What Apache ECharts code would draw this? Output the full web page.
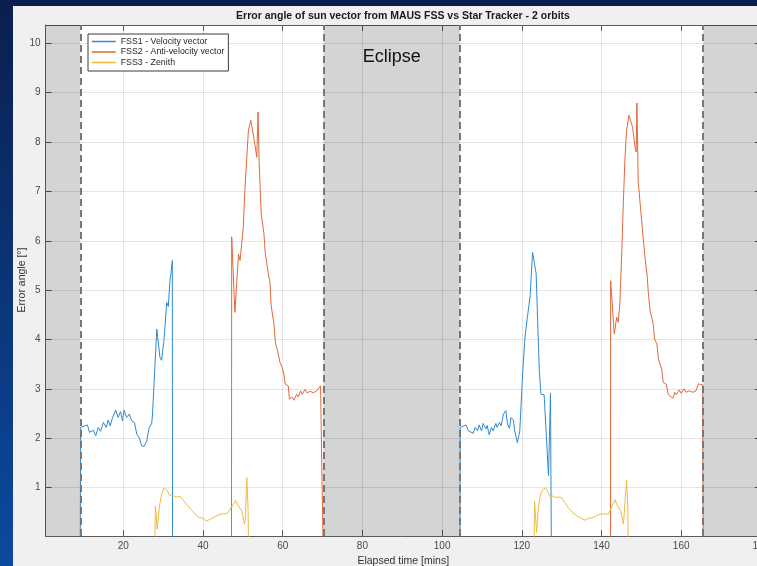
<!DOCTYPE html>
<html><head><meta charset="utf-8">
<script src="https://cdn.jsdelivr.net/npm/echarts@6/dist/echarts.min.js"></script>
<style>html,body{margin:0;padding:0;background:#0a2a60}#c{width:757px;height:566px}</style>
</head><body><div id="c"></div>
<script>
// ---- Data ----
const seriesNames = ['FSS1 - Velocity vector', 'FSS2 - Anti-velocity vector', 'FSS3 - Zenith'];

const fss1Orbit1Time = [9.2, 9.3, 11.0, 11.5, 12.5, 13.1, 13.7, 14.3, 15.0, 15.7, 16.2, 16.7, 17.3, 18.1, 18.7, 19.3, 19.8, 20.2, 20.8, 21.5, 22.1, 22.8, 23.4, 24.0, 24.6, 25.2, 25.9, 26.5, 27.1, 27.3, 27.5, 28.4, 29.2, 29.6, 30.2, 30.9, 31.3, 31.7, 31.9, 32.3, 32.35];
const fss1Orbit1Error = [0, 2.22, 2.27, 2.12, 2.16, 2.05, 2.22, 2.14, 2.32, 2.22, 2.37, 2.25, 2.42, 2.57, 2.42, 2.54, 2.35, 2.57, 2.42, 2.49, 2.35, 2.32, 2.08, 2.01, 1.85, 1.83, 1.95, 2.22, 2.29, 2.45, 2.76, 4.21, 3.64, 3.58, 3.98, 4.75, 4.67, 5.19, 5.3, 5.60, 0];
const fss1Orbit2Time = [104.5, 104.55, 106.0, 106.6, 107.1, 107.8, 108.3, 108.9, 109.3, 109.9, 110.3, 111.0, 111.3, 111.8, 112.4, 112.8, 113.5, 113.8, 114.4, 114.8, 115.4, 116.0, 116.4, 116.9, 117.3, 117.9, 118.2, 118.9, 119.5, 120.2, 120.8, 121.4, 122.1, 122.7, 123.1, 123.6, 124.0, 124.4, 124.8, 125.6, 126.1, 126.7, 127.2, 127.4];
const fss1Orbit2Error = [0, 2.22, 2.27, 2.15, 2.16, 2.10, 2.22, 2.15, 2.27, 2.15, 2.30, 2.19, 2.26, 2.07, 2.22, 2.15, 2.30, 2.22, 2.32, 2.25, 2.49, 2.56, 2.29, 2.20, 2.42, 2.37, 2.15, 1.91, 2.15, 3.30, 4.04, 4.45, 4.89, 5.77, 5.79, 5.33, 4.31, 3.37, 2.89, 2.88, 2.89, 1.24, 2.91, 0];

const fss2Orbit1Time = [47.15, 47.2, 48.0, 48.9, 49.3, 49.7, 50.1, 50.5, 51.0, 51.4, 52.0, 52.4, 52.8, 53.5, 53.8, 54.1, 54.6, 55.3, 55.6, 56.4, 56.8, 57.1, 57.8, 58.2, 58.6, 59.1, 59.3, 59.9, 60.3, 60.6, 61.4, 61.7, 62.3, 62.8, 63.5, 63.9, 64.5, 64.9, 65.6, 66.1, 66.9, 67.7, 68.5, 68.9, 69.5, 70.0, 70.1];
const fss2Orbit1Error = [0, 6.08, 4.55, 5.73, 5.60, 5.63, 6.27, 7.02, 7.69, 8.24, 8.44, 8.40, 8.07, 7.69, 8.61, 7.56, 6.55, 6.14, 5.77, 5.33, 5.16, 4.69, 4.31, 3.91, 3.81, 3.79, 3.54, 3.43, 3.30, 3.10, 3.06, 2.79, 2.84, 2.77, 2.89, 2.84, 2.96, 2.89, 2.99, 2.92, 2.95, 2.92, 2.96, 2.93, 3.06, 3.08, 0];
const fss2Orbit2Time = [142.25, 142.3, 143.2, 143.8, 144.2, 144.6, 145.1, 145.5, 145.9, 146.3, 146.9, 147.3, 147.8, 148.4, 148.7, 148.9, 149.2, 149.7, 150.3, 150.9, 151.5, 151.7, 152.2, 152.6, 153.0, 153.3, 153.9, 154.3, 155.1, 155.5, 156.2, 156.8, 157.3, 157.9, 158.4, 158.8, 159.5, 160.0, 160.7, 161.2, 162.0, 162.9, 163.7, 164.3, 164.7, 165.4, 165.5];
const fss2Orbit2Error = [0, 5.19, 4.11, 4.45, 4.35, 4.72, 5.80, 6.82, 7.69, 8.24, 8.54, 8.52, 8.30, 7.90, 7.80, 8.79, 7.21, 6.75, 6.21, 5.67, 5.26, 4.99, 4.58, 4.45, 4.31, 4.01, 3.91, 3.60, 3.40, 3.13, 3.10, 2.88, 2.88, 2.81, 2.93, 2.88, 2.98, 2.91, 3.00, 2.93, 2.96, 2.93, 2.96, 3.10, 3.06, 3.08, 0];

const fss3Orbit1Time = [27.95, 28.05, 28.5, 29.0, 29.6, 30.2, 30.7, 31.1, 31.5, 32.0, 32.6, 33.4, 34.2, 34.9, 35.9, 37.2, 38.4, 39.2, 40.1, 40.8, 41.8, 43.0, 44.3, 45.5, 46.3, 47.0, 47.6, 48.2, 48.6, 49.0, 49.7, 50.4, 50.6, 51.0, 51.3, 51.4];
const fss3Orbit1Error = [0, 0.63, 0.16, 0.59, 0.87, 0.99, 0.97, 0.93, 0.85, 0.87, 0.83, 0.81, 0.83, 0.76, 0.66, 0.54, 0.43, 0.39, 0.38, 0.32, 0.36, 0.41, 0.46, 0.47, 0.49, 0.59, 0.66, 0.74, 0.66, 0.67, 0.53, 0.26, 0.33, 1.20, 0.59, 0];
const fss3Orbit2Time = [123.1, 123.2, 123.7, 124.1, 124.7, 125.4, 126.0, 126.5, 127.1, 127.8, 128.6, 129.4, 130.0, 130.8, 131.7, 132.8, 133.8, 134.9, 135.9, 136.7, 137.8, 138.8, 139.6, 140.6, 141.7, 142.1, 142.7, 143.4, 143.8, 144.2, 144.8, 145.5, 145.7, 146.3, 146.6, 146.7];
const fss3Orbit2Error = [0, 0.73, 0.09, 0.56, 0.87, 0.97, 0.99, 0.92, 0.81, 0.83, 0.80, 0.81, 0.79, 0.70, 0.59, 0.49, 0.43, 0.38, 0.34, 0.38, 0.39, 0.43, 0.46, 0.47, 0.46, 0.53, 0.63, 0.76, 0.66, 0.70, 0.53, 0.26, 0.30, 1.15, 0.60, 0];

// Eclipse boundaries (minutes)
const eclipseEdges = [9.2, 70.2, 104.5, 165.5];
const xRange = [0.5, 180];
const yRange = [0.02, 10.37];

// ---- Build ----
const FONT = "'Liberation Sans', Arial, Helvetica, sans-serif";
function pairs(t, v) { return t.map((x, i) => [x, v[i]]); }
function join(a, b) { return a.concat([['-', '-']], b); }

const colors = ['#3189d2', '#e2683a', '#efbb3e'];
const lineData = [
  join(pairs(fss1Orbit1Time, fss1Orbit1Error), pairs(fss1Orbit2Time, fss1Orbit2Error)),
  join(pairs(fss2Orbit1Time, fss2Orbit1Error), pairs(fss2Orbit2Time, fss2Orbit2Error)),
  join(pairs(fss3Orbit1Time, fss3Orbit1Error), pairs(fss3Orbit2Time, fss3Orbit2Error))
];

const chart = echarts.init(document.getElementById('c'), null, { renderer: 'canvas' });

const xFmt = v => (Math.abs(v / 20 - Math.round(v / 20)) < 1e-6 ? String(Math.round(v)) : '');
const yFmt = v => (Math.abs(v - Math.round(v)) < 1e-6 ? String(Math.round(v)) : '');

const series = lineData.map((d, i) => ({
  name: seriesNames[i], type: 'line', data: d, symbol: 'none', showSymbol: false,
  connectNulls: false, z: 3, clip: true,
  lineStyle: { color: colors[i], width: 1 }, itemStyle: { color: colors[i] },
  emphasis: { disabled: true }, animation: false
}));

// shaded eclipse regions
series.push({
  type: 'line', data: [], z: 1, silent: true, animation: false,
  markArea: {
    silent: true,
    itemStyle: { color: 'rgba(0,0,0,0.17)' },
    label: { show: false },
    data: [
      [{ xAxis: xRange[0] }, { xAxis: eclipseEdges[0] }],
      [{ xAxis: eclipseEdges[1], name: 'Eclipse',
         label: { show: true, position: 'insideTop', distance: 23, color: '#111', fontSize: 18, fontFamily: FONT } },
       { xAxis: eclipseEdges[2] }],
      [{ xAxis: eclipseEdges[3] }, { xAxis: xRange[1] }]
    ]
  }
});
// dashed eclipse boundary lines
series.push({
  type: 'line', data: [], z: 5, silent: true, animation: false,
  markLine: {
    silent: true, symbol: ['none', 'none'], label: { show: false },
    lineStyle: { color: '#777', type: [7, 4], width: 2 },
    data: eclipseEdges.map(x => ({ xAxis: x }))
  }
});

const axisCommon = {
  type: 'value',
  axisLine: { show: true, lineStyle: { color: '#5a5a5a', width: 1 } },
  axisTick: { show: true, inside: true, length: 6, lineStyle: { color: '#5a5a5a' } }
};

chart.setOption({
  animation: false,
  backgroundColor: new echarts.graphic.LinearGradient(0, 0, 0, 1, [
    { offset: 0, color: '#0a1f4f' }, { offset: 1, color: '#0b4a9f' }
  ]),
  graphic: [
    { type: 'rect', z: -10, shape: { x: 13, y: 6, width: 760, height: 570 }, style: { fill: '#f0f0f0' }, silent: true },
    { type: 'text', z: 10, x: 403, y: 16, silent: true,
      style: { text: 'Error angle of sun vector from MAUS FSS vs Star Tracker - 2 orbits', align: 'center', verticalAlign: 'middle',
        fill: '#1a1a1a', font: "bold 10.5px 'Liberation Sans', Arial, sans-serif" } },
    { type: 'text', z: 10, x: 22, y: 280, rotation: Math.PI / 2, silent: true,
      style: { text: 'Error angle [°]', align: 'center', verticalAlign: 'middle',
        fill: '#333', font: "10.5px 'Liberation Sans', Arial, sans-serif" } }
  ],
  grid: { left: 45.6, top: 25, width: 715.3, height: 511, show: true, backgroundColor: '#ffffff', borderWidth: 0,
          containLabel: false, outerBoundsMode: 'none' },
  legend: {
    data: seriesNames, orient: 'vertical', left: 88, top: 34,
    padding: [3, 4, 4, 3], itemWidth: 24, itemHeight: 10, itemGap: 1.5,
    backgroundColor: '#ffffff', borderColor: '#3c3c3c', borderWidth: 1, borderRadius: 0,
    itemStyle: { opacity: 0 },
    lineStyle: { width: 1.5 },
    textStyle: { fontSize: 8.8, color: '#262626', fontFamily: FONT },
    selectedMode: false
  },
  xAxis: [
    Object.assign({}, axisCommon, {
      position: 'bottom', min: xRange[0], max: xRange[1], splitNumber: 9,
      name: 'Elapsed time [mins]', nameLocation: 'middle', nameGap: 18,
      nameTextStyle: { fontSize: 10.5, color: '#333', fontFamily: FONT },
      axisLabel: { formatter: xFmt, interval: 0, fontSize: 10, color: '#4a4a4a', margin: 5, fontFamily: FONT },
      splitLine: { show: true, lineStyle: { color: 'rgba(0,0,0,0.1)', width: 1 } }
    }),
    Object.assign({}, axisCommon, {
      position: 'top', min: xRange[0], max: xRange[1], splitNumber: 9,
      axisLabel: { show: false }, splitLine: { show: false }
    })
  ],
  yAxis: [
    Object.assign({}, axisCommon, {
      position: 'left', min: yRange[0], max: yRange[1], splitNumber: 10,
      axisLabel: { formatter: yFmt, interval: 0, fontSize: 10, color: '#4a4a4a', margin: 5, fontFamily: FONT },
      splitLine: { show: true, lineStyle: { color: 'rgba(0,0,0,0.1)', width: 1 } }
    }),
    Object.assign({}, axisCommon, {
      position: 'right', min: yRange[0], max: yRange[1], splitNumber: 10,
      axisLabel: { show: false }, splitLine: { show: false }
    })
  ],
  series: series
});
</script></body></html>
